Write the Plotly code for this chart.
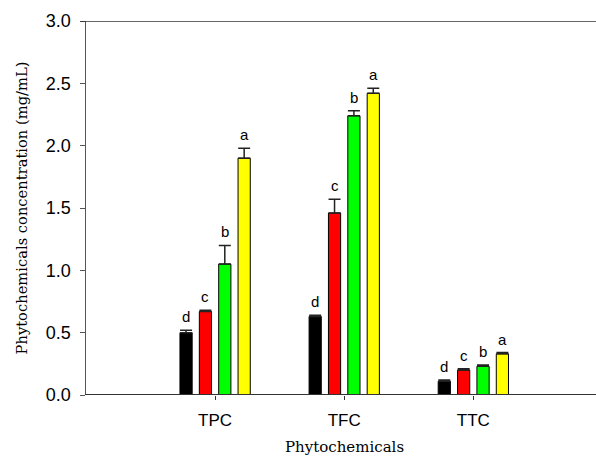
import plotly.graph_objects as go

categories = ["TPC", "TFC", "TTC"]
series_names = ["S1", "S2", "S3", "S4"]
colors = ["#000000", "#ff0000", "#00ff00", "#ffff00"]

s1_vals = [0.50, 0.63, 0.11]
s2_vals = [0.67, 1.46, 0.20]
s3_vals = [1.05, 2.24, 0.23]
s4_vals = [1.90, 2.42, 0.33]

s1_err = [0.02, 0.01, 0.01]
s2_err = [0.01, 0.11, 0.01]
s3_err = [0.15, 0.04, 0.01]
s4_err = [0.08, 0.04, 0.01]

s1_letters = ["d", "d", "d"]
s2_letters = ["c", "c", "c"]
s3_letters = ["b", "b", "b"]
s4_letters = ["a", "a", "a"]

y_ticks = [0.0, 0.5, 1.0, 1.5, 2.0, 2.5, 3.0]
y_title = "Phytochemicals concentration (mg/mL)"
x_title = "Phytochemicals"

vals = [s1_vals, s2_vals, s3_vals, s4_vals]
errs = [s1_err, s2_err, s3_err, s4_err]
letters = [s1_letters, s2_letters, s3_letters, s4_letters]

BARGAP = 0.4
GROUPGAP = 0.37

fig = go.Figure()
for name, c, v, e in zip(series_names, colors, vals, errs):
    fig.add_trace(go.Bar(
        x=categories, y=v, name=name,
        marker=dict(color=c, line=dict(color="#000000", width=1)),
        error_y=dict(type="data", array=e, symmetric=False, arrayminus=[0]*len(e),
                     color="#222222", thickness=1.5, width=6),
    ))

n = len(series_names)
slot = (1 - BARGAP) / n
annotations = []
for i, (v, e, L) in enumerate(zip(vals, errs, letters)):
    for j, cat in enumerate(categories):
        annotations.append(dict(
            x=j + (i - (n - 1) / 2) * slot, y=v[j] + e[j], xref="x", yref="y",
            text=L[j], showarrow=False, yanchor="bottom", yshift=3,
            font=dict(family="Liberation Sans, Arial", size=15, color="#000000"),
        ))

annotations.append(dict(
    x=1, y=0, xref="x", yref="paper", text=x_title, showarrow=False,
    yanchor="top", yshift=-42, borderpad=0,
    font=dict(family="DejaVu Serif, serif", size=15, color="#000000"),
))

fig.update_layout(
    width=596, height=458,
    margin=dict(l=86, r=0, t=21, b=63),
    paper_bgcolor="white", plot_bgcolor="white",
    barmode="group", bargap=BARGAP, bargroupgap=GROUPGAP,
    showlegend=False,
    annotations=annotations,
    shapes=[
        dict(type="line", xref="paper", yref="y", x0=-0.011, x1=1.05, y0=3.0, y1=3.0,
             line=dict(color="#333333", width=1.5), layer="above"),
        dict(type="line", xref="paper", yref="y", x0=-0.002, x1=1.05, y0=0, y1=0,
             line=dict(color="#333333", width=2), layer="above"),
    ],
    xaxis=dict(
        type="category", range=[-1, 2.95],
        showline=False,
        ticks="outside", ticklen=4, tickwidth=1, tickcolor="#333333",
        tickfont=dict(family="Liberation Sans, Arial", size=17, color="#000000"),
        ticklabelstandoff=6,
        showgrid=False, zeroline=False,
    ),
    yaxis=dict(
        range=[0, 3.0], tickvals=y_ticks, ticktext=[f"{t:.1f}" for t in y_ticks],
        showline=True, linecolor="#555555", linewidth=1.5,
        ticks="outside", ticklen=5, tickwidth=1, tickcolor="#555555",
        tickfont=dict(family="Liberation Sans, Arial", size=18, color="#000000"),
        ticklabelstandoff=5,
        showgrid=False, zeroline=False,
        title=dict(text=y_title, standoff=14,
                   font=dict(family="DejaVu Serif, serif", size=14.7, color="#000000")),
    ),
)

fig.write_html("out.html",
               config={"displayModeBar": False, "staticPlot": True},
               post_script="document.body.style.margin='0';document.body.style.overflow='hidden';")
